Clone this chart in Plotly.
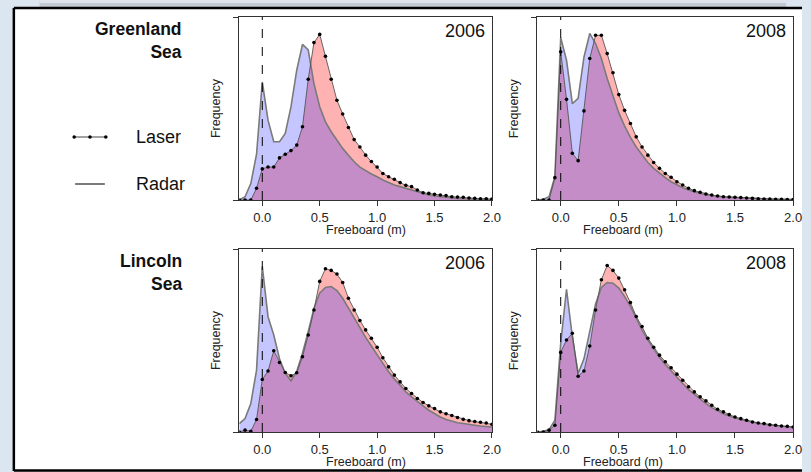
import plotly.graph_objects as go

W, H = 811, 472

# ---------------- data ----------------
freeboard = [round(-0.2 + 0.05 * i, 2) for i in range(45)]  # bin centres (m)

greenland_2006_laser = [0, 0, 0, 0.064, 0.17, 0.18, 0.18, 0.23, 0.25, 0.27, 0.30, 0.40, 0.66, 0.86, 0.905,
                        0.785, 0.66, 0.545, 0.47, 0.396, 0.33, 0.29, 0.245, 0.21, 0.18, 0.145, 0.127, 0.113,
                        0.095, 0.08, 0.073, 0.055, 0.04, 0.036, 0.031, 0.027, 0.024, 0.018, 0.016, 0.015,
                        0.011, 0.009, 0.007, 0.007, 0.005]
greenland_2006_radar = [0, 0.018, 0.09, 0.25, 0.645, 0.436, 0.318, 0.318, 0.364, 0.51, 0.71, 0.85, 0.82, 0.636,
                        0.51, 0.427, 0.373, 0.327, 0.282, 0.245, 0.209, 0.18, 0.16, 0.142, 0.127, 0.109, 0.096,
                        0.082, 0.073, 0.064, 0.055, 0.044, 0.036, 0.027, 0.022, 0.018, 0.015, 0.013, 0.009,
                        0.007, 0.005, 0.005, 0.004, 0.004, 0.002]
greenland_2008_laser = [0, 0, 0, 0.122, 0.81, 0.55, 0.255, 0.215, 0.487, 0.773, 0.90, 0.90, 0.80, 0.695, 0.576,
                        0.49, 0.418, 0.345, 0.29, 0.245, 0.205, 0.173, 0.145, 0.124, 0.10, 0.082, 0.064, 0.051,
                        0.042, 0.033, 0.027, 0.022, 0.018, 0.016, 0.015, 0.013, 0.011, 0.009, 0.007, 0.005,
                        0.005, 0.004, 0.004, 0.003, 0.003]
greenland_2008_radar = [0, 0.004, 0.018, 0.127, 0.887, 0.764, 0.527, 0.555, 0.78, 0.91, 0.855, 0.773, 0.664,
                        0.564, 0.476, 0.404, 0.342, 0.29, 0.245, 0.205, 0.173, 0.145, 0.122, 0.10, 0.082, 0.067,
                        0.055, 0.044, 0.036, 0.029, 0.024, 0.02, 0.016, 0.015, 0.013, 0.011, 0.009, 0.008,
                        0.007, 0.006, 0.005, 0.004, 0.004, 0.003, 0.003]
lincoln_2006_laser = [0, 0.01, 0.004, 0.068, 0.287, 0.333, 0.444, 0.38, 0.325, 0.307, 0.324, 0.411, 0.53, 0.667,
                      0.823, 0.892, 0.883, 0.863, 0.817, 0.731, 0.667, 0.609, 0.558, 0.512, 0.463, 0.406, 0.356,
                      0.311, 0.274, 0.238, 0.21, 0.183, 0.161, 0.143, 0.128, 0.11, 0.10, 0.09, 0.079, 0.069,
                      0.062, 0.057, 0.053, 0.049, 0.042]
lincoln_2006_radar = [0.046, 0.073, 0.155, 0.338, 0.905, 0.63, 0.53, 0.40, 0.32, 0.28, 0.33, 0.43, 0.548, 0.676,
                      0.759, 0.79, 0.795, 0.773, 0.731, 0.676, 0.62, 0.567, 0.517, 0.47, 0.42, 0.375, 0.329,
                      0.289, 0.256, 0.219, 0.192, 0.165, 0.143, 0.119, 0.10, 0.082, 0.068, 0.058, 0.051, 0.046,
                      0.04, 0.037, 0.033, 0.031, 0.027]
lincoln_2008_laser = [0, 0, 0.01, 0.037, 0.435, 0.503, 0.54, 0.305, 0.333, 0.47, 0.667, 0.832, 0.91, 0.883, 0.841,
                      0.777, 0.707, 0.631, 0.576, 0.512, 0.463, 0.42, 0.384, 0.351, 0.316, 0.283, 0.247, 0.219,
                      0.192, 0.17, 0.146, 0.124, 0.11, 0.095, 0.082, 0.073, 0.064, 0.055, 0.049, 0.046, 0.04,
                      0.037, 0.033, 0.031, 0.027]
lincoln_2008_radar = [0, 0.004, 0.013, 0.064, 0.484, 0.78, 0.52, 0.32, 0.40, 0.557, 0.70, 0.79, 0.817, 0.813, 0.786,
                      0.74, 0.686, 0.622, 0.557, 0.503, 0.452, 0.408, 0.369, 0.333, 0.296, 0.265, 0.232, 0.205,
                      0.179, 0.155, 0.133, 0.115, 0.10, 0.088, 0.077, 0.068, 0.06, 0.053, 0.048, 0.042, 0.038,
                      0.035, 0.031, 0.029, 0.026]

regions = ["Greenland<br>Sea", "Lincoln<br>Sea"]
years = ["2006", "2008"]
x_ticks = [0.0, 0.5, 1.0, 1.5, 2.0]
x_tick_labels = ["0.0", "0.5", "1.0", "1.5", "2.0"]
legend_names = ["Laser", "Radar"]

panels = [
    (greenland_2006_laser, greenland_2006_radar),
    (greenland_2008_laser, greenland_2008_radar),
    (lincoln_2006_laser, lincoln_2006_radar),
    (lincoln_2008_laser, lincoln_2008_radar),
]

# ---------------- layout helpers (pixels -> paper) ----------------
def px(p):
    return p / W

def py(p):
    return 1 - p / H

col_x = [(242, 497.5), (543.5, 802)]
row_y = [(17, 200), (249, 432)]

FONT = "Liberation Sans, Arial, Helvetica, sans-serif"
LASER_FILL = "rgba(255,0,0,0.30)"
RADAR_FILL = "rgba(40,40,255,0.27)"
RADAR_LINE = "#7a7a7a"
AXIS_COL = "#333333"

fig = go.Figure()

for i, (laser, radar) in enumerate(panels):
    n = "" if i == 0 else str(i + 1)
    xa, ya = "x" + n, "y" + n
    fig.add_trace(go.Scatter(x=freeboard, y=laser, mode="none", fill="tozeroy",
                             fillcolor=LASER_FILL, xaxis=xa, yaxis=ya, showlegend=False, hoverinfo="skip"))
    fig.add_trace(go.Scatter(x=freeboard, y=radar, mode="lines", fill="tozeroy",
                             fillcolor=RADAR_FILL, line=dict(color=RADAR_LINE, width=1.6),
                             xaxis=xa, yaxis=ya, showlegend=False, name="Radar"))
    fig.add_trace(go.Scatter(x=freeboard, y=laser, mode="lines+markers",
                             line=dict(color="#555555", width=0.9),
                             marker=dict(color="black", size=3.6),
                             xaxis=xa, yaxis=ya, showlegend=False, name="Laser"))

    r, c = divmod(i, 2)
    x0, x1 = col_x[c]
    y0, y1 = row_y[r]
    axis_common = dict(showline=True, linecolor=AXIS_COL, linewidth=1, mirror=True,
                       showgrid=False, zeroline=False, ticks="outside", ticklen=5,
                       tickcolor=AXIS_COL, tickwidth=1)
    fig.update_layout(**{
        "xaxis" + n: dict(domain=[px(x0), px(x1)], range=[-0.2, 2.0], anchor=ya,
                          tickvals=x_ticks, ticktext=x_tick_labels,
                          tickfont=dict(family=FONT, size=13, color="#222"), **axis_common),
        "yaxis" + n: dict(domain=[py(y1), py(y0)], range=[0, 1], anchor=xa,
                          tickvals=[0, 1], showticklabels=False, **axis_common),
    })
    # dashed zero line
    fig.add_shape(type="line", xref=xa, yref=ya + " domain", x0=0, x1=0, y0=0, y1=1,
                  line=dict(color="black", width=1, dash="dash"))
    # year label
    fig.add_annotation(text=years[c], xref=xa + " domain", x=1, xanchor="right", xshift=-5,
                       yref="paper", y=py(y0 + 14), yanchor="middle", showarrow=False,
                       font=dict(family=FONT, size=18, color="#111"))
    # axis titles
    fig.add_annotation(text="Freeboard (m)", xref="paper", x=px((x0 + x1) / 2), yref="paper",
                       y=py(y1 + 30), yanchor="middle", showarrow=False,
                       font=dict(family=FONT, size=12.5, color="#222"))
    fig.add_annotation(text="Frequency", xref="paper", x=px(x0 - 24), yref="paper",
                       y=py((y0 + y1) / 2), textangle=-90, xanchor="center", yanchor="middle",
                       showarrow=False, font=dict(family=FONT, size=12.5, color="#222"))

# row labels
for r, label in enumerate(regions):
    fig.add_annotation(text="<b>" + label + "</b>", xref="paper", x=px(186), xanchor="right",
                       yref="paper", y=py(row_y[r][0] + 23), yanchor="middle", align="right",
                       showarrow=False, font=dict(family=FONT, size=17.5, color="#111"))

# legend key (drawn as shapes in paper space)
legend_x = [75, 91, 107]
legend_y = [137, 184]
fig.add_shape(type="line", xref="paper", yref="paper", x0=px(legend_x[0]), x1=px(legend_x[-1]),
              y0=py(legend_y[0]), y1=py(legend_y[0]), line=dict(color="#444", width=1))
for lx in legend_x:
    fig.add_shape(type="circle", xref="paper", yref="paper", x0=px(lx - 1.8), x1=px(lx + 1.8),
                  y0=py(legend_y[0] + 1.8), y1=py(legend_y[0] - 1.8),
                  fillcolor="black", line=dict(color="black", width=0))
fig.add_shape(type="line", xref="paper", yref="paper", x0=px(legend_x[0] + 1), x1=px(legend_x[-1] - 1),
              y0=py(legend_y[1]), y1=py(legend_y[1]), line=dict(color=RADAR_LINE, width=2))
for name, yy in zip(legend_names, legend_y):
    fig.add_annotation(text=name, xref="paper", x=px(136), xanchor="left", yref="paper",
                       y=py(yy), yanchor="middle", showarrow=False,
                       font=dict(family=FONT, size=18, color="#111"))

# frame / background (kept inside the paper)
fig.add_shape(type="rect", xref="paper", yref="paper", x0=px(40), x1=px(795), y0=py(7), y1=1,
              fillcolor="#c3c9d2", line=dict(width=0), layer="below")
fig.add_shape(type="rect", xref="paper", yref="paper", x0=px(40), x1=px(795), y0=py(3), y1=1,
              fillcolor="#dfe4ea", line=dict(width=0), layer="below")
fig.add_shape(type="rect", xref="paper", yref="paper", x0=px(14), x1=1, y0=py(471), y1=py(8),
              fillcolor="white", line=dict(width=0), layer="below")
for (ax0, ay0, ax1, ay1) in [(14, 8, 811, 8), (14, 8, 14, 471), (14, 470.5, 811, 470.5)]:
    fig.add_shape(type="line", xref="paper", yref="paper", x0=px(ax0), x1=px(ax1),
                  y0=py(ay0), y1=py(ay1), line=dict(color="black", width=2.5), layer="below")

fig.update_layout(
    width=W, height=H, margin=dict(l=0, r=0, t=0, b=0),
    paper_bgcolor="#dce6f1", plot_bgcolor="rgba(0,0,0,0)",
    showlegend=False, font=dict(family=FONT),
)

fig.write_html("out.html", config={"displayModeBar": False},
               post_script="document.body.style.margin='0';document.body.style.overflow='hidden';")
